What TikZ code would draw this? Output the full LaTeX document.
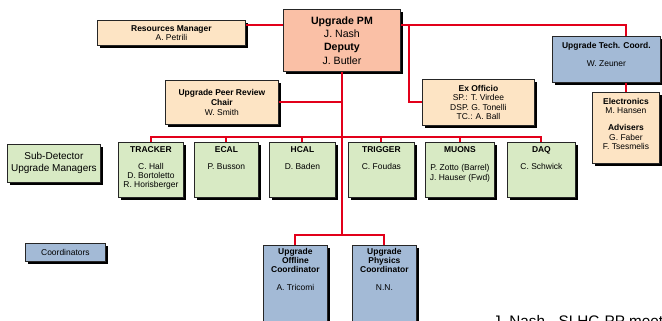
\documentclass[tikz,border=0pt]{standalone}
\usepackage{fontspec}
\setmainfont{Liberation Sans}
\usetikzlibrary{shadows}
\definecolor{pmred}{RGB}{250,192,166}
\definecolor{mgrtan}{RGB}{253,228,196}
\definecolor{detgreen}{RGB}{216,234,196}
\definecolor{crdblue}{RGB}{163,186,214}
\definecolor{linkred}{RGB}{226,0,26}
\newcommand{\smallfs}{\fontsize{7.2}{7.8}\selectfont}

\tikzset{
  orgbox/.style={draw=black!85, line width=0.7pt, anchor=north west, align=center,
    inner sep=1pt, font=\smallfs,
    drop shadow={shadow xshift=2.4pt, shadow yshift=-2.4pt, fill=black, opacity=1}},
  mgr/.style={orgbox, fill=mgrtan},
  det/.style={orgbox, fill=detgreen, minimum height=46.75pt},
  crd/.style={orgbox, fill=crdblue},
  intop/.style={anchor=north, align=center, inner sep=0pt, yshift=-3.5pt, font=\smallfs},
  link/.style={draw=linkred, line width=1.7pt},
}

\begin{document}
\begin{tikzpicture}[x=0.85pt, y=-0.85pt]
  \useasboundingbox (0,0) rectangle (662,321);
  \clip (0,0) rectangle (662,321);

  \node[orgbox, fill=pmred, minimum width=99.5pt, minimum height=52.7pt,
    font=\fontsize{9}{11.3}\selectfont] (pm) at (283,9)
    {\textbf{Upgrade PM}\\J. Nash\\\textbf{Deputy}\\J. Butler};
  \node[mgr, minimum width=125.8pt, minimum height=21.3pt] (rm) at (97,20)
    {\textbf{Resources Manager}\\A. Petrili};
  \node[crd, minimum width=91.8pt, minimum height=39.1pt,
    label={[intop, yshift=-1.5pt]north:{\textbf{Upgrade Tech. Coord.}\\[8pt]W. Zeuner}}] (tc) at (552,36) {};
  \node[mgr, minimum width=96pt, minimum height=37.4pt, font=\fontsize{7.2}{8.5}\selectfont] (pr) at (165,80)
    {\textbf{Upgrade Peer Review}\\\textbf{Chair}\\W. Smith};
  \node[mgr, minimum width=95.2pt, minimum height=39.1pt] (exo) at (422,79)
    {\textbf{Ex Officio}\\SP.: T. Virdee\\DSP. G. Tonelli\\TC.: A. Ball};
  \node[mgr, minimum width=57pt, minimum height=60.4pt,
    label={[intop, yshift=-1.5pt]north:{\textbf{Electronics}\\M. Hansen\\[7pt]\textbf{Advisers}\\G. Faber\\F. Tsesmelis}}] (elec) at (592,92) {};

  \node[orgbox, fill=detgreen, minimum width=79pt, minimum height=32.3pt,
    font=\fontsize{8.5}{10.2}\selectfont] (sdum) at (7,144) {Sub-Detector\\Upgrade Managers};
  \node[det, minimum width=55.3pt,
    label={[intop]north:{\textbf{TRACKER}\\[6.5pt]C. Hall\\D. Bortoletto\\R. Horisberger}}] (trk) at (118,142) {};
  \node[det, minimum width=54.4pt,
    label={[intop]north:{\textbf{ECAL}\\[6.5pt]P. Busson}}] (ecal) at (194,142) {};
  \node[det, minimum width=56.1pt,
    label={[intop]north:{\textbf{HCAL}\\[6.5pt]D. Baden}}] (hcal) at (269,142) {};
  \node[det, minimum width=56.1pt,
    label={[intop]north:{\textbf{TRIGGER}\\[6.5pt]C. Foudas}}] (trig) at (348,142) {};
  \node[det, minimum width=58.7pt,
    label={[intop, font=\fontsize{7.2}{8.9}\selectfont]north:{\textbf{MUONS}\\[6.5pt]P. Zotto (Barrel)\\J. Hauser (Fwd)}}] (muon) at (425,142) {};
  \node[det, minimum width=57.8pt,
    label={[intop]north:{\textbf{DAQ}\\[6.5pt]C. Schwick}}] (daq) at (507,142) {};

  \node[crd, minimum width=68pt, minimum height=15.3pt] (crds) at (25,243) {Coordinators};
  \node[crd, minimum width=54.4pt, minimum height=90pt,
    label={[intop, yshift=1pt]north:{\textbf{Upgrade}\\\textbf{Offline}\\\textbf{Coordinator}\\[7pt]A. Tricomi}}] (off) at (263,245) {};
  \node[crd, minimum width=54.4pt, minimum height=90pt,
    label={[intop, yshift=1pt]north:{\textbf{Upgrade}\\\textbf{Physics}\\\textbf{Coordinator}\\[7pt]N.N.}}] (phy) at (352,245) {};

  \node[anchor=north west, inner sep=0pt, font=\fontsize{13}{15}\selectfont] (foot) at (493,315)
    {J. Nash - SLHC-PP meeting};

  \coordinate (hline) at (0,25);
  \coordinate (xo) at (409,25);
  \coordinate (detbar) at (0,137);
  \coordinate (crdbar) at (0,235);

  \draw[link] (rm.east |- hline) -- (pm.west |- hline);
  \draw[link] (pm.east |- hline) -| (tc.north -| elec.north);
  \draw[link] (xo) |- (exo.west);
  \draw[link] (tc.south -| elec.north) -- (elec.north);
  \draw[link] (pm.south) -- (pm.south |- crdbar);
  \draw[link] (pr.east) -- (pr.east -| pm.south);
  \draw[link] (trk.north) |- (daq.north |- detbar) -- (daq.north);
  \foreach \n in {ecal,hcal,trig,muon}
    \draw[link] (\n.north) -- (\n.north |- detbar);
  \draw[link] (off.north) |- (phy.north |- crdbar) -- (phy.north);
\end{tikzpicture}
\end{document}
